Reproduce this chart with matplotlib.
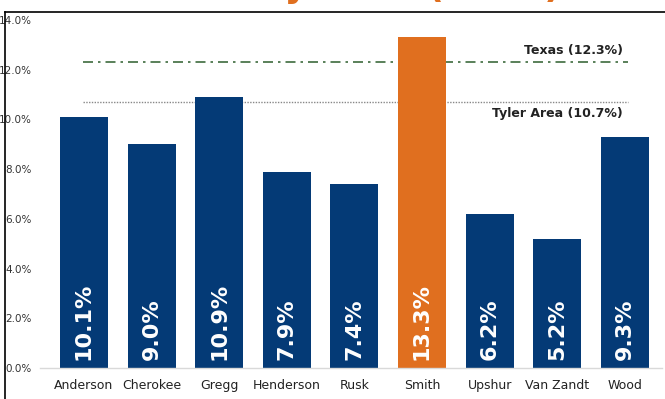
import matplotlib.pyplot as plt
from matplotlib.lines import Line2D

counties = ['Anderson', 'Cherokee', 'Gregg', 'Henderson', 'Rusk',
            'Smith', 'Upshur', 'Van Zandt', 'Wood']
rates = [10.1, 9.0, 10.9, 7.9, 7.4, 13.3, 6.2, 5.2, 9.3]
highlight = 'Smith'
texas_rate = 12.3
tyler_rate = 10.7
yticks = [0, 2, 4, 6, 8, 10, 12, 14]

NAVY = '#043a76'
ORANGE = '#e06f1f'

fig = plt.figure(figsize=(6.65, 3.99), dpi=100)
ax = fig.add_axes([40 / 665, 31 / 399, 622 / 665, 348 / 399])

x = list(range(len(counties)))
colors = [ORANGE if c == highlight else NAVY for c in counties]
ax.bar(x, rates, width=0.71, color=colors, zorder=2)

# valores dentro das barras
for xi, v in zip(x, rates):
    ax.text(xi, 0.33, f'{v:.1f}%', rotation=90, ha='center', va='bottom',
            color='white', fontsize=16, fontweight='bold', zorder=3)

# linhas de referência
ax.plot([-0.02, 8.05], [texas_rate] * 2, color='#3d6b3d', lw=1.2,
        linestyle=(0, (6, 3, 1.5, 3)), zorder=1)
ax.plot([-0.02, 8.05], [tyler_rate] * 2, color='#888888', lw=1.0,
        linestyle=(0, (1, 1)), zorder=1)
ax.text(7.97, texas_rate + 0.2, f'Texas ({texas_rate}%)', ha='right',
        va='bottom', fontsize=9, fontweight='bold', color='#222222')
ax.text(7.97, tyler_rate - 0.22, f'Tyler Area ({tyler_rate}%)', ha='right',
        va='top', fontsize=9, fontweight='bold', color='#222222')

ax.set_xlim(-0.65, 8.55)
ax.set_ylim(0, 14)
ax.set_yticks(yticks)
ax.set_yticklabels([f'{t:.1f}%' for t in yticks], fontsize=7.5, color='#333333')
ax.set_xticks(x)
ax.set_xticklabels(counties, fontsize=9, color='#222222')
ax.tick_params(axis='both', length=0)
ax.tick_params(axis='x', pad=8)
ax.tick_params(axis='y', pad=6)
for s in ['top', 'right', 'left']:
    ax.spines[s].set_visible(False)
ax.spines['bottom'].set_color('#d9d9d9')
ax.spines['bottom'].set_linewidth(1.0)

# moldura (bordas superior e esquerda) e título cortado no topo
fig.add_artist(Line2D([5 / 665, 5 / 665], [0, 1 - 12 / 399],
                      transform=fig.transFigure, color='black', lw=1.2))
fig.add_artist(Line2D([5 / 665, 1], [1 - 12 / 399] * 2,
                      transform=fig.transFigure, color='black', lw=1.2))
fig.text(355 / 665, 1 + 3 / 399, 'Poverty Rate (2016)', ha='center',
         va='baseline', fontsize=26, fontweight='bold', color=ORANGE)

fig.savefig('out.png', dpi=100)
